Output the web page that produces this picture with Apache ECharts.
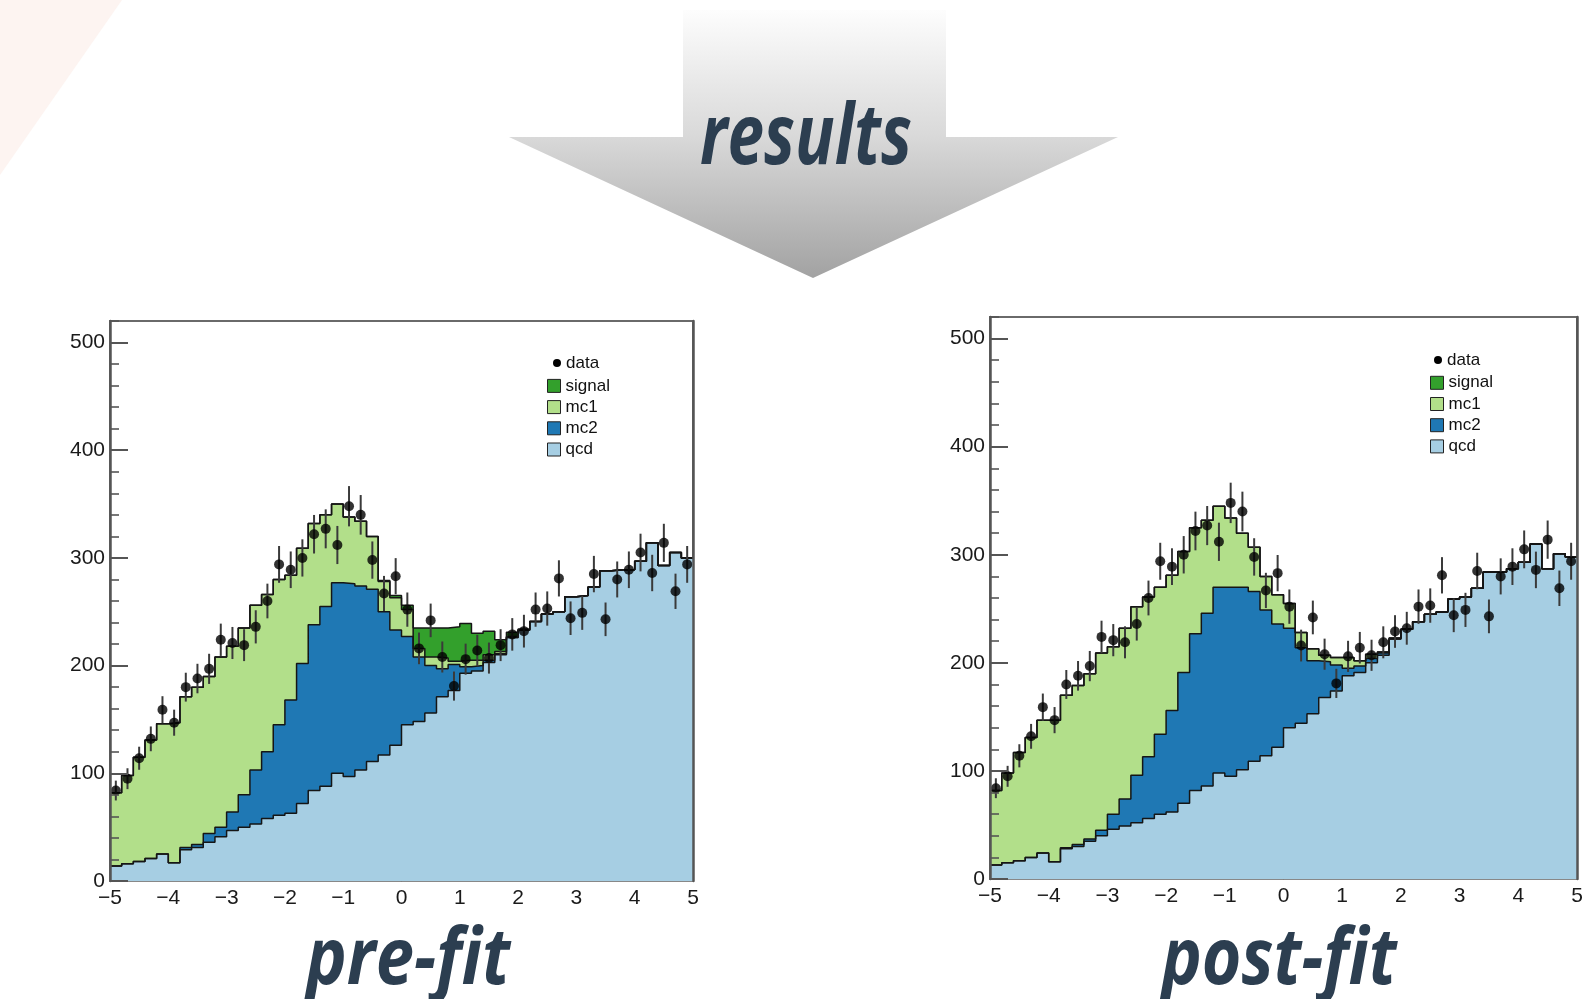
<!DOCTYPE html>
<html><head><meta charset="utf-8">
<script src="https://cdn.jsdelivr.net/npm/echarts@6/dist/echarts.min.js"></script>
<style>html,body{margin:0;padding:0;background:#fff}#c{width:1586px;height:999px}</style>
</head><body><div id="c"></div>
<script>
const X_MIN = -5, X_MAX = 5, N_BINS = 50;
const yTickValues = [0, 100, 200, 300, 400, 500];
const yMinorValues = [20,40,60,80,120,140,160,180,220,240,260,280,320,340,360,380,420,440,460,480,520];
const componentNames = ['qcd', 'mc2', 'mc1', 'signal'];
const componentColors = { qcd: '#a6cee3', mc2: '#1f78b4', mc1: '#b2df8a', signal: '#33a02c' };

const dataCounts = [84, 95, 114, 132, 159, 147, 180, 188, 197, 224,
  221, 219, 236, 260, 294, 289, 300, 322, 327, 312,
  348, 340, 298, 267, 283, 252, 216, 242, 208, 181,
  206, 214, 207, 219, 229, 232, 252, 253, 281, 244,
  249, 285, 243, 280, 289, 305, 286, 314, 269, 294];
const dataErrors = [9.2, 9.7, 10.7, 11.5, 12.6, 12.1, 13.4, 13.7, 14.0, 15.0,
  14.9, 14.8, 15.4, 16.1, 17.1, 17.0, 17.3, 17.9, 18.1, 17.7,
  18.7, 18.4, 17.3, 16.3, 16.8, 15.9, 14.7, 15.6, 14.4, 13.5,
  14.4, 14.6, 14.4, 14.8, 15.1, 15.2, 15.9, 15.9, 16.8, 15.6,
  15.8, 16.9, 15.6, 16.7, 17.0, 17.5, 16.9, 17.7, 16.4, 17.1];

const preQcd = [14, 16, 18, 21, 25, 17, 29, 31, 36, 41,
  47, 50, 53, 58, 61, 63, 72, 84, 88, 100,
  97, 103, 111, 117, 126, 145, 148, 156, 171, 177,
  193, 195, 203, 210, 226, 233, 241, 248, 250, 264,
  265, 273, 288, 289, 289, 297, 314, 293, 305, 300];
const preMc2 = [0, 0, 0, 0, 0, 0, 2, 3, 8, 9,
  17, 30, 50, 62, 84, 105, 130, 154, 167, 177,
  179, 171, 160, 133, 107, 82, 60, 44, 26, 24,
  6, 5, 2, 1, 0, 0, 0, 0, 0, 0,
  0, 0, 0, 0, 0, 0, 0, 0, 0, 0];
const preMc1 = [68, 82, 97, 110, 121, 130, 140, 146, 146, 158,
  154, 155, 153, 146, 135, 116, 107, 94, 85, 73,
  62, 60, 49, 28, 30, 25, 8, 8, 10, 3,
  6, 5, 5, 2, 1, 0, 0, 0, 0, 0,
  0, 0, 0, 0, 0, 0, 0, 0, 0, 0];
const preSignal = [0, 0, 0, 0, 0, 0, 0, 0, 0, 0,
  0, 0, 0, 0, 0, 0, 0, 0, 0, 0,
  0, 0, 0, 1, 2, 4, 19, 27, 28, 32,
  34, 25, 22, 11, 4, 1, 0, 0, 0, 0,
  0, 0, 0, 0, 0, 0, 0, 0, 0, 0];

const postQcd = [13, 15, 17, 20, 24, 16, 28, 30, 35, 40,
  46, 49, 52, 56, 60, 62, 70, 82, 86, 98,
  95, 101, 109, 114, 122, 140, 144, 153, 168, 174,
  188, 191, 200, 207, 222, 231, 238, 245, 247, 259,
  261, 269, 284, 284, 287, 293, 310, 287, 301, 298];
const postMc2 = [0, 0, 0, 0, 0, 0, 1, 2, 2, 5,
  14, 25, 44, 57, 74, 94, 121, 145, 160, 172,
  175, 169, 157, 135, 114, 92, 70, 49, 33, 24,
  7, 6, 4, 2, 0, 0, 0, 0, 0, 0,
  0, 0, 0, 0, 0, 0, 0, 0, 0, 0];
const postMc1 = [69, 83, 100, 111, 123, 131, 141, 147, 153, 164,
  155, 158, 156, 148, 136, 125, 112, 98, 86, 75,
  64, 50, 41, 31, 27, 23, 14, 11, 6, 7,
  10, 5, 4, 1, 1, 0, 0, 0, 0, 0,
  0, 0, 0, 0, 0, 0, 0, 0, 0, 0];
const postSignal = [0, 0, 0, 0, 0, 0, 0, 0, 0, 0,
  0, 0, 0, 0, 0, 0, 0, 0, 0, 0,
  0, 0, 0, 0, 0, 0, 0, 0, 0, 0,
  0, 0, 0, 0, 0, 0, 0, 0, 0, 0,
  0, 0, 0, 0, 0, 0, 0, 0, 0, 0];

const panelTitles = ['pre-fit', 'post-fit'];

const FONT = '"Liberation Sans", Arial, Helvetica, sans-serif';
const binW = (X_MAX - X_MIN) / N_BINS;
const binEdges = Array.from({length: N_BINS}, (_, i) => +(X_MIN + i * binW).toFixed(4));
const binCenters = binEdges.map(e => +(e + binW / 2).toFixed(4));

function stepPoints(vals) {
  const pts = vals.map((v, i) => [binEdges[i], v]);
  pts.push([X_MAX, vals[vals.length - 1]]);
  return pts;
}
// cumulative stack levels (qcd at bottom, then mc2, mc1, signal)
function stackLevels(comps) {
  const levels = {};
  let run = new Array(N_BINS).fill(0);
  componentNames.forEach(n => {
    run = run.map((s, i) => s + comps[n][i]);
    levels[n] = run.slice();
  });
  return levels;
}

const panels = [
  { comps: { qcd: preQcd, mc2: preMc2, mc1: preMc1, signal: preSignal },
    grid: { left: 110, top: 321, width: 583, height: 560 },
    legData: { left: 553, top: 354.5 }, legComp: { left: 547, top: 377.4 } },
  { comps: { qcd: postQcd, mc2: postMc2, mc1: postMc1, signal: postSignal },
    grid: { left: 990, top: 317, width: 587, height: 562 },
    legData: { left: 1434, top: 351.6 }, legComp: { left: 1430, top: 374.3 } }
];

const grids = [], xAxes = [], yAxes = [], series = [], legends = [];
const fmtX = v => (v < 0 ? '\u2212' + (-v) : String(v));

panels.forEach((p, g) => {
  grids.push(Object.assign({ show: true, borderColor: '#6a6a6a', borderWidth: 2, backgroundColor: '#fff' }, p.grid));
  xAxes.push({
    gridIndex: g, type: 'value', min: X_MIN, max: X_MAX, interval: 1, z: 5,
    axisLine: { show: true, onZero: false, lineStyle: { color: '#888', width: 1 } },
    axisTick: { show: false }, splitLine: { show: false },
    axisLabel: { fontSize: 21, color: '#1a1a1a', fontFamily: FONT, margin: 7, formatter: fmtX }
  });
  yAxes.push({
    gridIndex: g, type: 'value', min: 0, max: 520, interval: 100, position: 'left', z: 6,
    axisLine: { show: true, onZero: false, lineStyle: { color: '#555', width: 2.5 } },
    axisTick: { show: true, inside: true, length: 18, customValues: yTickValues, lineStyle: { color: '#555', width: 2 } },
    axisLabel: { fontSize: 21, color: '#1a1a1a', fontFamily: FONT, margin: 5, customValues: yTickValues },
    splitLine: { show: false }
  });
  yAxes.push({
    gridIndex: g, type: 'value', min: 0, max: 520, interval: 20, position: 'left', z: 6,
    axisLine: { show: false, onZero: false },
    axisTick: { show: true, inside: true, length: 9, customValues: yMinorValues, lineStyle: { color: '#555', width: 1.6 } },
    axisLabel: { show: false }, splitLine: { show: false }
  });
  yAxes.push({
    gridIndex: g, type: 'value', min: 0, max: 520, position: 'right', z: 6,
    axisLine: { show: true, onZero: false, lineStyle: { color: '#555', width: 2.5 } },
    axisTick: { show: false }, axisLabel: { show: false }, splitLine: { show: false }
  });

  const lv = stackLevels(p.comps);
  // filled areas: draw the highest level first, lower ones over it
  componentNames.slice().reverse().forEach(name => {
    series.push({
      type: 'line', name: name, xAxisIndex: g, yAxisIndex: g * 3,
      step: 'end', symbol: 'none', silent: true, z: 2,
      lineStyle: { width: 0 }, itemStyle: { color: componentColors[name] },
      areaStyle: { color: componentColors[name], opacity: 1 }, data: stepPoints(lv[name])
    });
  });
  componentNames.forEach(name => {
    series.push({
      type: 'line', name: name + ' outline', xAxisIndex: g, yAxisIndex: g * 3,
      step: 'end', symbol: 'none', silent: true, z: 3,
      lineStyle: { color: '#151515', width: 1.5 }, data: stepPoints(lv[name])
    });
  });
  series.push({
    type: 'custom', name: 'data', xAxisIndex: g, yAxisIndex: g * 3, z: 4, silent: true,
    data: dataCounts.map((v, i) => [binCenters[i], v, dataErrors[i]]),
    encode: { x: 0, y: 1 },
    renderItem: (params, api) => {
      const x = api.value(0), v = api.value(1), e = api.value(2);
      const a = api.coord([x, v - e]), b = api.coord([x, v + e]);
      return { type: 'line', shape: { x1: a[0], y1: a[1], x2: b[0], y2: b[1] }, style: { stroke: '#3a3a3a', lineWidth: 2 } };
    }
  });
  series.push({
    type: 'scatter', name: 'data', xAxisIndex: g, yAxisIndex: g * 3, z: 5, silent: true,
    symbol: 'circle', symbolSize: 10, itemStyle: { color: '#000' },
    data: dataCounts.map((v, i) => [binCenters[i], v])
  });

  legends.push({
    orient: 'vertical', left: p.legData.left, top: p.legData.top, itemWidth: 8, itemHeight: 8,
    selectedMode: false, padding: 0,
    textStyle: { fontSize: 17, lineHeight: 17, color: '#111', fontFamily: FONT },
    data: [{ name: 'data', icon: 'circle', itemStyle: { color: '#000' } }]
  });
  legends.push({
    orient: 'vertical', left: p.legComp.left, top: p.legComp.top, itemWidth: 13, itemHeight: 13, itemGap: 4.2,
    selectedMode: false, padding: 0,
    textStyle: { fontSize: 17, lineHeight: 17, color: '#111', fontFamily: FONT },
    data: ['signal', 'mc1', 'mc2', 'qcd'].map(n => ({ name: n, icon: 'rect',
      itemStyle: { color: componentColors[n], borderColor: '#222', borderWidth: 1 } }))
  });
});

const chart = echarts.init(document.getElementById('c'), null, { renderer: 'canvas' });
const titleFont = 'italic bold 78px "Open Sans", "Liberation Sans", sans-serif';
chart.setOption({
  animation: false,
  backgroundColor: '#fff',
  grid: grids, xAxis: xAxes, yAxis: yAxes, series: series, legend: legends,
  graphic: [
    { type: 'polygon', silent: true, z: -10, shape: { points: [[0, 0], [122, 0], [0, 175]] }, style: { fill: '#fdf4f1' } },
    { type: 'polygon', silent: true, z: -5,
      shape: { points: [[683, 10], [946, 10], [946, 137], [1118, 137], [813, 278], [509, 137], [683, 137]] },
      style: { fill: new echarts.graphic.LinearGradient(0, 0, 0, 1, [
        { offset: 0, color: '#fdfdfd' }, { offset: 0.47, color: '#d9d9d9' }, { offset: 1, color: '#a2a2a2' }]) } },
    { type: 'text', silent: true, x: 806, y: 140, scaleX: 0.78, z: 10,
      style: { text: 'results', font: 'italic bold 84px "Open Sans", "Liberation Sans", sans-serif', fill: '#2c3e50', align: 'center', verticalAlign: 'middle' } },
    { type: 'text', silent: true, x: 408, y: 962, scaleX: 0.88, z: 10,
      style: { text: panelTitles[0], font: titleFont, fill: '#2c3e50', align: 'center', verticalAlign: 'middle' } },
    { type: 'text', silent: true, x: 1279, y: 962, scaleX: 0.87, z: 10,
      style: { text: panelTitles[1], font: titleFont, fill: '#2c3e50', align: 'center', verticalAlign: 'middle' } }
  ]
});
</script></body></html>
